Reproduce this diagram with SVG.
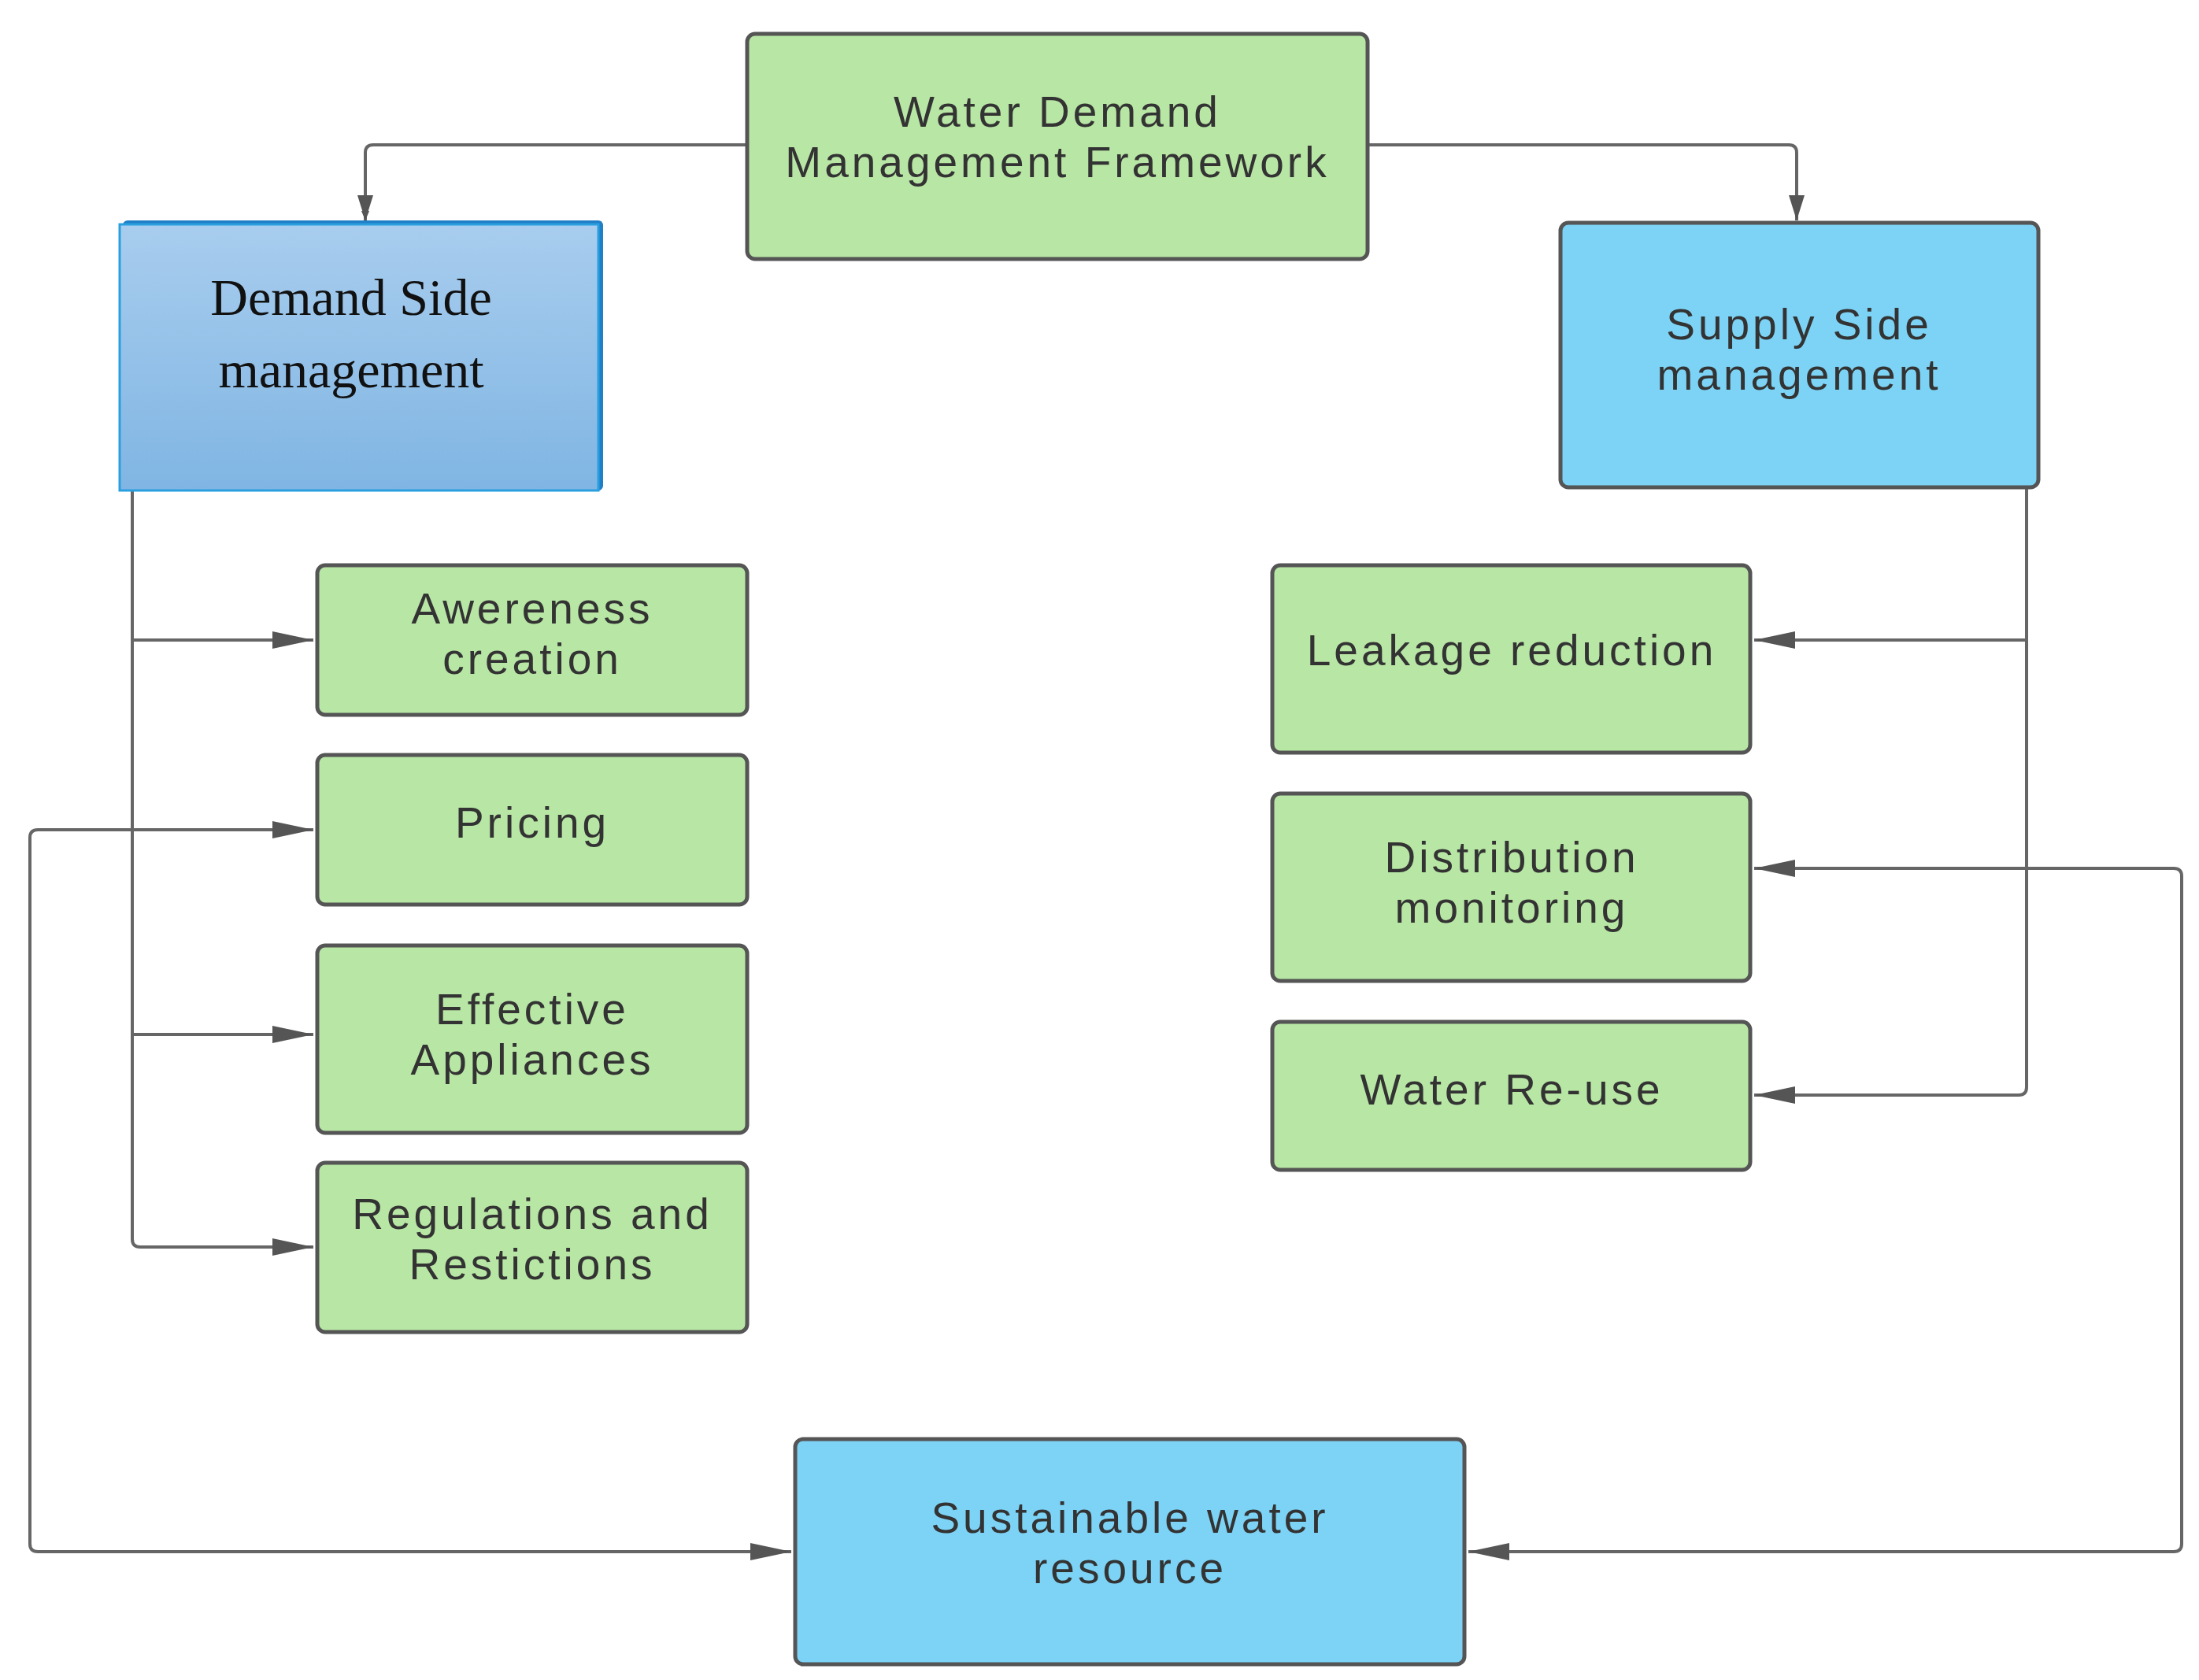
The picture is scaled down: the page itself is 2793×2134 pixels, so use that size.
<svg xmlns="http://www.w3.org/2000/svg" width="2793" height="2134" viewBox="0 0 2793 2134">
<style>
.g{fill:#b8e6a5;stroke:#555;stroke-width:5}
.b{fill:#7dd3f5;stroke:#555;stroke-width:5}
.t{font-family:"Liberation Sans",Arial,sans-serif;font-size:55px;fill:#333;text-anchor:middle;letter-spacing:4px}
.s{font-family:"Liberation Serif","Times New Roman",serif;font-size:66px;fill:#111;text-anchor:middle}
.c{fill:none;stroke:#666;stroke-width:4}
</style>
<defs>
<linearGradient id="gr" x1="0" y1="0" x2="0" y2="1"><stop offset="0" stop-color="#a8cdee"/><stop offset="1" stop-color="#80b5e3"/></linearGradient>
<marker id="a" viewBox="0 0 10 10" refX="10" refY="5" markerWidth="12" markerHeight="10" markerUnits="userSpaceOnUse" orient="auto" preserveAspectRatio="none"><path d="M0,0 L10,5 L0,10 z" fill="#555"/></marker>
</defs>
<rect width="2793" height="2134" fill="#fff"/>
<g id="connectors" class="c">
<path d="M949,184 H474 Q464,184 464,194 V280" marker-end="url(#a)" style="stroke-width:4"/>
<path d="M1737,184 H2272 Q2282,184 2282,194 V280"/>
<path d="M168,623 V1574 Q168,1584 178,1584 H398"/>
<path d="M168,813 H398"/><path d="M168,1314 H398"/>
<path d="M398,1054 H48 Q38,1054 38,1064 V1961 Q38,1971 48,1971 H1005"/>
<path d="M2574,619 V1381 Q2574,1391 2564,1391 H2228"/>
<path d="M2574,813 H2228"/>
<path d="M2228,1103 H2761 Q2771,1103 2771,1113 V1961 Q2771,1971 2761,1971 H1865"/>
</g>
<g id="arrows" fill="#555">
<path d="M454,248 L474,248 L464,280 z"/>
<path d="M2272,248 L2292,248 L2282,280 z"/>
<path d="M346,802 L398,813 L346,824 z"/>
<path d="M346,1043 L398,1054 L346,1065 z"/>
<path d="M346,1303 L398,1314 L346,1325 z"/>
<path d="M346,1573 L398,1584 L346,1595 z"/>
<path d="M953,1960 L1005,1971 L953,1982 z"/>
<path d="M2280,802 L2228,813 L2280,824 z"/>
<path d="M2280,1092 L2228,1103 L2280,1114 z"/>
<path d="M2280,1380 L2228,1391 L2280,1402 z"/>
<path d="M1917,1960 L1865,1971 L1917,1982 z"/>
</g>
<g id="top"><rect class="g" x="949" y="43" width="788" height="286" rx="10"/><text class="t" x="1343" y="161">Water Demand</text><text class="t" x="1343" y="225">Management Framework</text></g>
<g id="demand"><rect x="156" y="280" width="610" height="343" rx="6" fill="#1f7fc7"/><rect x="152" y="285" width="608" height="338" fill="url(#gr)" stroke="#2a9fe0" stroke-width="3"/><text class="s" x="446" y="400">Demand Side</text><text class="s" x="446" y="492">management</text></g>
<g id="supply"><rect class="b" x="1982" y="283" width="607" height="336" rx="10"/><text class="t" x="2285" y="431">Supply Side</text><text class="t" x="2285" y="495">management</text></g>
<g id="awareness"><rect class="g" x="403" y="718" width="546" height="190" rx="10"/><text class="t" x="676" y="792">Awereness</text><text class="t" x="676" y="856">creation</text></g>
<g id="pricing"><rect class="g" x="403" y="959" width="546" height="190" rx="10"/><text class="t" x="676" y="1064">Pricing</text></g>
<g id="effective"><rect class="g" x="403" y="1201" width="546" height="238" rx="10"/><text class="t" x="676" y="1301">Effective</text><text class="t" x="676" y="1365">Appliances</text></g>
<g id="regulations"><rect class="g" x="403" y="1477" width="546" height="215" rx="10"/><text class="t" x="676" y="1561">Regulations and</text><text class="t" x="676" y="1625">Restictions</text></g>
<g id="leakage"><rect class="g" x="1616" y="718" width="607" height="238" rx="10"/><text class="t" x="1920" y="845">Leakage reduction</text></g>
<g id="distribution"><rect class="g" x="1616" y="1008" width="607" height="238" rx="10"/><text class="t" x="1920" y="1108">Distribution</text><text class="t" x="1920" y="1172">monitoring</text></g>
<g id="reuse"><rect class="g" x="1616" y="1298" width="607" height="188" rx="10"/><text class="t" x="1920" y="1403">Water Re-use</text></g>
<g id="sustainable"><rect class="b" x="1010" y="1828" width="850" height="286" rx="10"/><text class="t" x="1435" y="1947">Sustainable water</text><text class="t" x="1435" y="2011">resource</text></g>
</svg>
